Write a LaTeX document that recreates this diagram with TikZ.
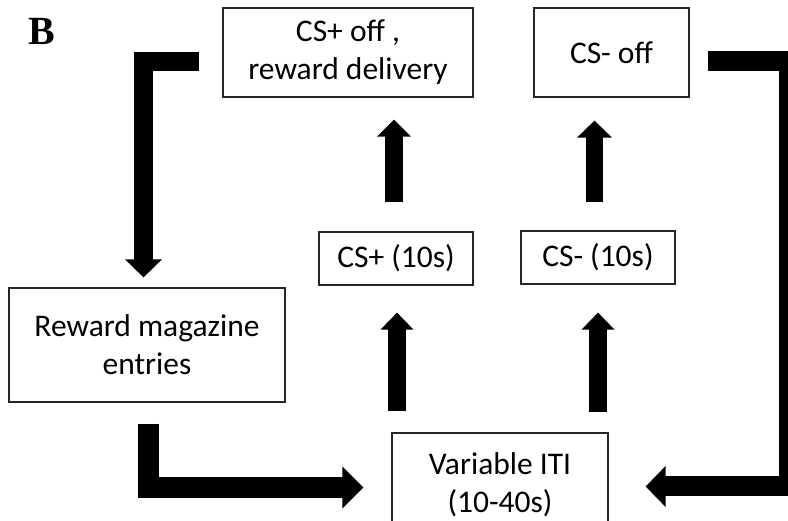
\documentclass[tikz,border=0pt]{standalone}
\usepackage{fontspec}
\setmainfont{Carlito}
\newfontfamily\labelfont{Liberation Serif}
\usetikzlibrary{calc}
\begin{document}
\begin{tikzpicture}[x=1pt,y=-1pt,
  box/.style={draw=black!85, line width=1.3pt, rectangle, inner sep=0pt, align=center,
    font=\fontsize{31.5}{38}\selectfont},
  shaft/.style={draw=black, line join=miter, line width=#1},
  head/.style={fill=black}]
\useasboundingbox (0,0) rectangle (788,521);
\clip (0,0) rectangle (788,521);

\node[font=\labelfont\bfseries\fontsize{40}{40}\selectfont, anchor=base west, inner sep=0pt] (lbl) at (28,45) {B};

\node[box, minimum width=250pt, minimum height=89pt] (b1) at (348,52.5) {CS+ off ,\\reward delivery};
\node[box, minimum width=155pt, minimum height=89pt] (b2) at (611.5,52.5) {CS- off};
\node[box, minimum width=154pt, minimum height=53pt] (b3) at (396,258.5) {CS+ (10s)};
\node[box, minimum width=154pt, minimum height=53pt] (b4) at (598,257.5) {CS- (10s)};
\node[box, minimum width=276pt, minimum height=114pt] (b5) at (147,345) {Reward magazine\\entries};
\node[box, minimum width=216pt, minimum height=104pt] (b6) at (500,485) {Variable ITI\\(10-40s)};

% straight up arrows
\coordinate (u1) at (394,0);
\coordinate (u2) at (594.5,0);
\coordinate (u3) at (397,0);
\coordinate (u4) at (598,0);
\coordinate (t1) at ($(u1 |- b1.south)+(0,22)$);
\coordinate (t2) at ($(u2 |- b2.south)+(0,23)$);
\coordinate (t3) at ($(u3 |- b3.south)+(0,27)$);
\coordinate (t4) at ($(u4 |- b4.south)+(0,28)$);

\draw[shaft=18pt, shorten <=29pt] (u1 |- b3.north) -- ($(t1)+(0,16)$);
\fill[head] (t1) -- ++(17,17) -- ++(-34,0) -- cycle;
\draw[shaft=17pt, shorten <=28pt] (u2 |- b4.north) -- ($(t2)+(0,16)$);
\fill[head] (t2) -- ++(17.5,17) -- ++(-35,0) -- cycle;
\draw[shaft=18pt, shorten <=21pt] (u3 |- b6.north) -- ($(t3)+(0,16)$);
\fill[head] (t3) -- ++(16.5,17) -- ++(-33,0) -- cycle;
\draw[shaft=18pt, shorten <=20pt] (u4 |- b6.north) -- ($(t4)+(0,16)$);
\fill[head] (t4) -- ++(16.5,17) -- ++(-33,0) -- cycle;

% bent arrows
\coordinate (c1) at (143.5,61.5);
\coordinate (t5) at ($(c1 |- b5.north)+(0,-10)$);
\draw[shaft=19pt, shorten <=23pt] (b1.west |- c1) -- (c1) -- ($(t5)+(0,-17)$);
\fill[head] (t5) -- ++(18.5,-18) -- ++(-37,0) -- cycle;

\coordinate (c2) at (148.5,487.5);
\coordinate (t6) at ($(b6.west |- c2)+(-28,0)$);
\draw[shaft=21pt, shorten <=21pt] (c2 |- b5.south) -- (c2) -- ($(t6)+(-20,0)$);
\fill[head] (t6) -- ++(-21,21) -- ++(0,-42) -- cycle;

\coordinate (c3) at (789,61.5);
\coordinate (c4) at (789,486.5);
\coordinate (t7) at ($(b6.east |- c4)+(37,0)$);
\draw[shaft=20pt, shorten <=18pt] (b2.east |- c3) -- (c3) -- (c4) -- ($(t7)+(19,0)$);
\fill[head] (t7) -- ++(20,20.5) -- ++(0,-41) -- cycle;
\end{tikzpicture}
\end{document}
